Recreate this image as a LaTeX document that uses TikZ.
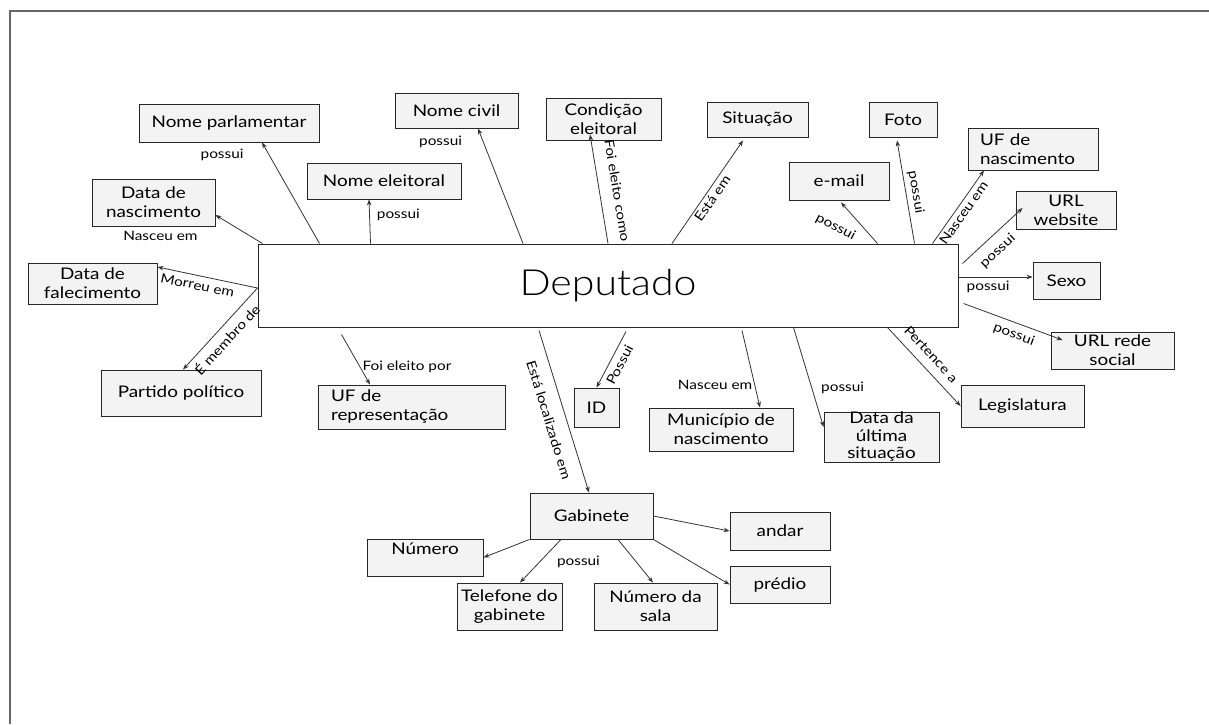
\documentclass[tikz,border=0pt]{standalone}
\usepackage{fontspec}
\setmainfont{Lato}[FakeStretch=1.18]
\newfontfamily\lightfont{Lato}[UprightFont=* Light, FakeStretch=1.14]
\usetikzlibrary{arrows.meta, positioning}
\definecolor{boxfill}{HTML}{F3F3F3}

\begin{document}
\begin{tikzpicture}[
    x=1pt, y=-1pt,
    entity/.style={
        rectangle, draw=black!85, line width=1pt, fill=white,
        minimum width=700pt, minimum height=83pt,
        font=\lightfont\fontsize{36}{40}\selectfont
    },
    attr/.style={
        rectangle, draw=black!85, line width=0.9pt, fill=boxfill,
        inner xsep=4pt, inner ysep=2pt, align=center,
        font=\fontsize{16}{19}\selectfont
    },
    attrl/.style={attr, align=left, inner xsep=12pt},
    rel/.style={font=\fontsize{13}{15}\selectfont, inner sep=1pt},
    link/.style={draw=black!80, line width=0.8pt, -{Stealth[length=6pt, width=4.5pt]}},
]
\useasboundingbox (0,0) rectangle (1209,724);
\draw[black!60, line width=2pt] (1209,10.5) -- (9.5,10.5) -- (9.5,724);

% Deputado (centre)
\node[entity] (dep) at (608,285.5) {Deputado};

% attributes above
\node[attr, minimum width=180pt, minimum height=38pt] (npar) at (229,123) {Nome parlamentar};
\node[attr, minimum width=123pt, minimum height=47pt] (dnasc) at (153.5,202.5) {Data de\\nascimento};
\node[attr, minimum width=154pt, minimum height=36pt] (nelei) at (384,181) {Nome eleitoral};
\node[attr, minimum width=123pt, minimum height=35pt] (nciv) at (456.5,110.5) {Nome civil};
\node[attr, minimum width=115pt, minimum height=42pt] (cond) at (603.5,119) {Condição\\eleitoral};
\node[attr, minimum width=101pt, minimum height=35pt] (sit) at (757.5,119.5) {Situação};
\node[attr, minimum width=68pt, minimum height=35pt] (foto) at (903,119.5) {Foto};
\node[attr, minimum width=100pt, minimum height=38pt] (email) at (839,181) {e-mail};
\node[attrl, text width=106pt, minimum height=42pt] (ufnasc) at (1033,149) {UF de\\nascimento};
\node[attr, minimum width=100pt, minimum height=38pt] (urlweb) at (1066,210) {URL\\website};

% attributes right
\node[attr, minimum width=67pt, minimum height=37pt] (sexo) at (1066.5,280.5) {Sexo};
\node[attr, minimum width=123pt, minimum height=37pt] (urlrede) at (1112.5,350.5) {URL rede\\social};
\node[attr, minimum width=123pt, minimum height=42pt] (legis) at (1022.5,406) {Legislatura};

% attributes below
\node[attr, minimum width=115pt, minimum height=50pt, inner ysep=0pt] (datault) at (881.5,437) {Data da\\[-1.5pt]última\\[-1.5pt]situação};
\node[attr, minimum width=144pt, minimum height=43pt] (munic) at (721,429.5) {Município de\\nascimento};
\node[attr, minimum width=45pt, minimum height=39pt] (id) at (596.5,407.5) {ID};
\node[attrl, text width=161pt, inner xsep=13pt, minimum height=44pt] (ufrep) at (411.5,407) {UF de\\representação};

% attributes left
\node[attr, minimum width=129pt, minimum height=41pt] (dfal) at (92.5,283.5) {Data de\\falecimento};
\node[attr, minimum width=160pt, minimum height=46pt] (partido) at (181,393) {Partido político};

% Gabinete and its attributes
\node[attr, minimum width=123pt, minimum height=46pt] (gab) at (591.5,516) {Gabinete};
\node[attr, minimum width=100pt, minimum height=38pt] (andar) at (780,531) {andar};
\node[attr, minimum width=100pt, minimum height=37pt] (predio) at (780,584.5) {prédio};
\node[attr, minimum width=116pt, minimum height=37pt, text height=13pt, text depth=20pt] (numero) at (425,557.5) {Número};
\node[attr, minimum width=105pt, minimum height=47pt] (tel) at (509.5,606.5) {Telefone do\\gabinete};
\node[attr, minimum width=123pt, minimum height=47pt] (sala) at (655.5,606.5) {Número da\\sala};

% top side
\draw[link] ([xshift=62pt]dep.north west) -- node[rel, pos=0.88, left=24pt] {possui} ([xshift=33pt]npar.south);
\draw[link] ([xshift=5pt]dep.north west) -- node[rel, pos=1, xshift=-55pt, yshift=-21pt] {Nasceu em} ([yshift=-12.5pt]dnasc.east);
\draw[link] ([xshift=113pt]dep.north west) -- node[rel, pos=0.64, right=6pt] {possui} ([xshift=-15pt]nelei.south);
\draw[link] ([xshift=-85pt]dep.north) -- node[rel, pos=0.88, left=20pt] {possui} ([xshift=21.5pt]nciv.south);
\draw[link] (dep.north) -- node[rel, pos=0.46, sloped, above, outer sep=12pt] {Foi eleito como} ([xshift=-13.5pt, yshift=6pt]cond.south);
\draw[link] ([xshift=64pt]dep.north) -- node[rel, pos=0.48, sloped, below, outer sep=2pt] {Está em} ([xshift=-14.5pt, yshift=-3pt]sit.south);
\draw[link] ([xshift=-81pt]dep.north east) -- node[rel, pos=0.71, xshift=-16pt, yshift=-13pt, rotate=-28] {possui} ([xshift=2pt, yshift=-2pt]email.south);
\draw[link] ([xshift=-44pt]dep.north east) -- node[rel, pos=0.48, sloped, above, outer sep=3pt] {possui} ([xshift=-6pt, yshift=-3pt]foto.south);
\draw[link] ([xshift=-26pt]dep.north east) -- node[rel, pos=0.48, sloped, below, outer sep=2pt] {Nasceu em} ([xshift=-49pt]ufnasc.south);

% right side
\draw[link] ([xshift=4pt, yshift=22pt]dep.east) -- node[rel, pos=0.42, sloped, below, outer sep=8pt] {possui} ([xshift=7pt, yshift=2pt]urlweb.west);
\draw[link] ([yshift=8.5pt]dep.east) -- node[rel, pos=0.4, below=3pt] {possui} ([yshift=3.5pt]sexo.west);
\draw[link] ([xshift=5pt, yshift=-18pt]dep.east) -- node[rel, pos=0.55, sloped, below, outer sep=5pt] {possui} ([xshift=12pt, yshift=10.5pt]urlrede.west);

% bottom side
\draw[link] ([xshift=-71pt]dep.south east) -- node[rel, pos=0.46, sloped, above, outer sep=8pt] {Pertence a} (legis.west);
\draw[link] ([xshift=-165pt]dep.south east) -- node[rel, pos=0.61, right=8pt] {possui} ([yshift=10pt]datault.west);
\draw[link] ([xshift=134pt, yshift=-3pt]dep.south) -- node[rel, pos=0.70, left=1pt] {Nasceu em} ([xshift=39pt]munic.north);
\draw[link] ([xshift=18pt, yshift=-4pt]dep.south) -- node[rel, pos=0.51, sloped, below, outer sep=4pt] {Possui} (id.north);
\draw[link] ([xshift=-69pt, yshift=-3pt]dep.south) -- node[rel, pos=0.52, sloped, below, outer sep=11pt] {Está localizado em} ([xshift=-2.5pt]gab.north);
\draw[link] ([xshift=84pt, yshift=-7pt]dep.south west) -- node[rel, pos=0.655, right=1pt] {Foi eleito por} ([xshift=-41.5pt]ufrep.north);

% left side
\draw[link] ([yshift=-2.5pt]dep.west) -- node[rel, pos=0.58, sloped, below, outer sep=4pt] {Morreu em} ([yshift=16.5pt]dfal.east);
\draw[link] ([yshift=-2.5pt]dep.west) -- node[rel, pos=0.53, sloped, below, outer sep=4.5pt] {É membro de} ([xshift=2pt]partido.north);

% Gabinete links
\draw[link] (gab.east) -- (andar.west);
\draw[link] (gab.south east) -- (predio.west);
\draw[link] (gab.south west) -- (numero.east);
\draw[link] ([xshift=-30.5pt]gab.south) -- node[rel, pos=0.52, right=16pt] {possui} ([xshift=10.5pt]tel.north);
\draw[link] ([xshift=26.5pt]gab.south) -- ([xshift=-2.5pt]sala.north);

\end{tikzpicture}
\end{document}
